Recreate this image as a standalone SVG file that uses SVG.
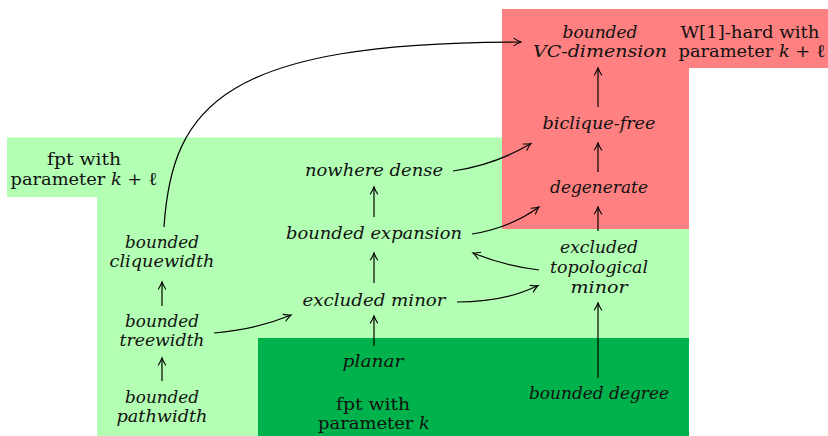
<svg xmlns="http://www.w3.org/2000/svg" width="828" height="436" viewBox="0 0 828 436">
<style>
.it{font-family:"DejaVu Serif","Liberation Serif",serif;font-style:italic;font-size:16.5px;fill:#111;text-anchor:middle}
.rm{font-family:"DejaVu Serif","Liberation Serif",serif;font-size:16.5px;fill:#111;text-anchor:middle}
.mi{font-style:italic}
.ell{font-size:18.5px}
.c{fill:none;stroke:#000;stroke-width:1.2;marker-end:url(#ah)}
</style>
<defs>
<marker id="ah" markerUnits="userSpaceOnUse" markerWidth="12" markerHeight="12" viewBox="-8 -6 10 12" refX="0" refY="0" orient="auto">
<path d="M-7,-3.6 Q-2.5,-0.8 0,0 Q-2.5,0.8 -7,3.6" fill="none" stroke="#000" stroke-width="1.1" stroke-linecap="round"/>
</marker>
</defs>
<rect width="828" height="436" fill="#fff"/>
<g id="regions">
<polygon points="7,137.5 502,137.5 502,229 689,229 689,436 97,436 97,197 7,197" fill="#B3FFB3"/>
<polygon points="502,9 828,9 828,68 689,68 689,229 502,229" fill="#FF8080"/>
<rect x="258" y="338" width="431" height="98" fill="#00B24C"/>
</g>
<g id="labels">
<text class="rm" x="750" y="38" textLength="139" lengthAdjust="spacingAndGlyphs">W[1]-hard with</text>
<text class="rm" x="752" y="57" textLength="147" lengthAdjust="spacingAndGlyphs">parameter <tspan class="mi">k</tspan> + <tspan class="ell">ℓ</tspan></text>
<text class="rm" x="84" y="165" textLength="74" lengthAdjust="spacingAndGlyphs">fpt with</text>
<text class="rm" x="84" y="185" textLength="147" lengthAdjust="spacingAndGlyphs">parameter <tspan class="mi">k</tspan> + <tspan class="ell">ℓ</tspan></text>
<text class="rm" x="373" y="410" textLength="74" lengthAdjust="spacingAndGlyphs">fpt with</text>
<text class="rm" x="374" y="429" textLength="112" lengthAdjust="spacingAndGlyphs">parameter <tspan class="mi">k</tspan></text>
</g>
<g id="vc">
<text class="it" x="600" y="38" textLength="75" lengthAdjust="spacingAndGlyphs">bounded</text>
<text class="it" x="600" y="57" textLength="134" lengthAdjust="spacingAndGlyphs">VC-dimension</text>
</g>
<g id="biclique"><text class="it" x="599" y="129" textLength="113" lengthAdjust="spacingAndGlyphs">biclique-free</text></g>
<g id="degenerate"><text class="it" x="599" y="193" textLength="98" lengthAdjust="spacingAndGlyphs">degenerate</text></g>
<g id="topminor">
<text class="it" x="599" y="253" textLength="78" lengthAdjust="spacingAndGlyphs">excluded</text>
<text class="it" x="599" y="273" textLength="98" lengthAdjust="spacingAndGlyphs">topological</text>
<text class="it" x="599" y="293" textLength="57" lengthAdjust="spacingAndGlyphs">minor</text>
</g>
<g id="degree"><text class="it" x="599" y="399" textLength="140" lengthAdjust="spacingAndGlyphs">bounded degree</text></g>
<g id="nowhere"><text class="it" x="374" y="176" textLength="138" lengthAdjust="spacingAndGlyphs">nowhere dense</text></g>
<g id="expansion"><text class="it" x="374" y="239" textLength="176" lengthAdjust="spacingAndGlyphs">bounded expansion</text></g>
<g id="minor"><text class="it" x="374" y="306" textLength="143" lengthAdjust="spacingAndGlyphs">excluded minor</text></g>
<g id="planar"><text class="it" x="373" y="367" textLength="61" lengthAdjust="spacingAndGlyphs">planar</text></g>
<g id="cliquewidth">
<text class="it" x="162" y="248" textLength="74" lengthAdjust="spacingAndGlyphs">bounded</text>
<text class="it" x="162" y="267" textLength="105" lengthAdjust="spacingAndGlyphs">cliquewidth</text>
</g>
<g id="treewidth">
<text class="it" x="162" y="327" textLength="74" lengthAdjust="spacingAndGlyphs">bounded</text>
<text class="it" x="162" y="346" textLength="85" lengthAdjust="spacingAndGlyphs">treewidth</text>
</g>
<g id="pathwidth">
<text class="it" x="162" y="403" textLength="74" lengthAdjust="spacingAndGlyphs">bounded</text>
<text class="it" x="162" y="422" textLength="91" lengthAdjust="spacingAndGlyphs">pathwidth</text>
</g>
<g id="connectors">
<path class="c" d="M598,107 L598,68"/>
<path class="c" d="M598,172 L598,143"/>
<path class="c" d="M598,231 L598,207"/>
<path class="c" d="M598,378 L598,303"/>
<path class="c" d="M374,217 L374,187"/>
<path class="c" d="M374,283 L374,253"/>
<path class="c" d="M374,346 L374,316"/>
<path class="c" d="M162,306 L162,282"/>
<path class="c" d="M162,381 L162,358"/>
<path class="c" d="M453,171 Q495,165 531,143.5"/>
<path class="c" d="M472,234 Q510,228 539,207"/>
<path class="c" d="M539,270 Q505,266 473,253"/>
<path class="c" d="M457,302 Q505,302 538,285.5"/>
<path class="c" d="M214,333 Q255,330 291,315"/>
<path class="c" d="M164,227 C172,105 225,42 521,42"/>
</g>
</svg>
